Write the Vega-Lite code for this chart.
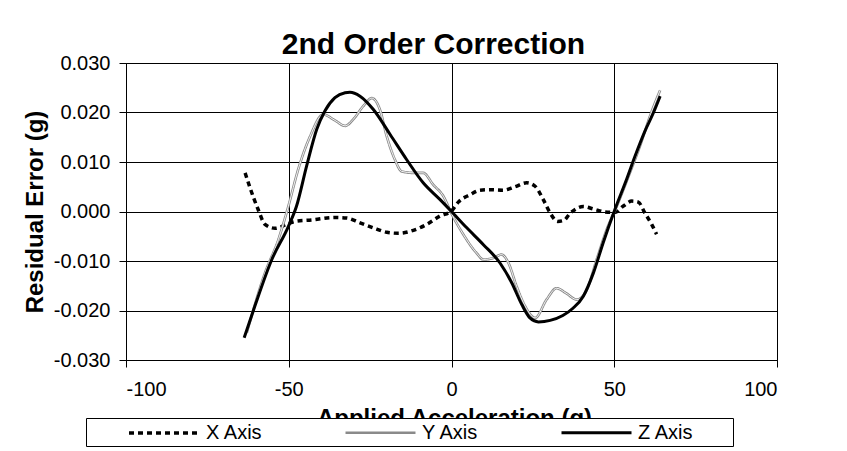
{
  "$schema": "https://vega.github.io/schema/vega-lite/v6.json",
  "width": 651,
  "height": 297,
  "autosize": {"type": "none"},
  "padding": {"left": 126, "top": 63, "right": 70, "bottom": 91},
  "background": "white",
  "title": {"text": "2nd Order Correction", "fontSize": 30, "font": "Liberation Sans", "fontWeight": "bold", "color": "black", "anchor": "middle", "frame": "group", "baseline": "alphabetic", "offset": 10, "dx": -18, "dy": 41},
  "config": {"view": {"stroke": "black", "strokeWidth": 1}, "font": "Liberation Sans"},
  "data": {"values": [
    {"series": "X Axis", "accel": -63.4, "err": 0.0078},
    {"series": "X Axis", "accel": -61.9, "err": 0.0048},
    {"series": "X Axis", "accel": -59.4, "err": 0.0004},
    {"series": "X Axis", "accel": -57.3, "err": -0.0026},
    {"series": "X Axis", "accel": -54.2, "err": -0.0034},
    {"series": "X Axis", "accel": -50.6, "err": -0.0026},
    {"series": "X Axis", "accel": -48.1, "err": -0.0020},
    {"series": "X Axis", "accel": -42.9, "err": -0.0017},
    {"series": "X Axis", "accel": -35.8, "err": -0.0012},
    {"series": "X Axis", "accel": -32.2, "err": -0.0013},
    {"series": "X Axis", "accel": -28.1, "err": -0.0023},
    {"series": "X Axis", "accel": -24.0, "err": -0.0033},
    {"series": "X Axis", "accel": -19.9, "err": -0.0042},
    {"series": "X Axis", "accel": -16.3, "err": -0.0044},
    {"series": "X Axis", "accel": -11.7, "err": -0.0038},
    {"series": "X Axis", "accel": -7.6, "err": -0.0026},
    {"series": "X Axis", "accel": -3.5, "err": -0.0009},
    {"series": "X Axis", "accel": 0.0, "err": 0.0001},
    {"series": "X Axis", "accel": 2.1, "err": 0.0019},
    {"series": "X Axis", "accel": 5.7, "err": 0.0034},
    {"series": "X Axis", "accel": 8.8, "err": 0.0043},
    {"series": "X Axis", "accel": 11.8, "err": 0.0044},
    {"series": "X Axis", "accel": 15.9, "err": 0.0043},
    {"series": "X Axis", "accel": 19.5, "err": 0.0050},
    {"series": "X Axis", "accel": 23.1, "err": 0.0058},
    {"series": "X Axis", "accel": 25.7, "err": 0.0051},
    {"series": "X Axis", "accel": 28.2, "err": 0.0024},
    {"series": "X Axis", "accel": 30.3, "err": -0.0003},
    {"series": "X Axis", "accel": 32.6, "err": -0.0020},
    {"series": "X Axis", "accel": 34.5, "err": -0.0018},
    {"series": "X Axis", "accel": 36.4, "err": -0.0004},
    {"series": "X Axis", "accel": 40.5, "err": 0.0010},
    {"series": "X Axis", "accel": 43.6, "err": 0.0005},
    {"series": "X Axis", "accel": 47.2, "err": -0.0001},
    {"series": "X Axis", "accel": 50.2, "err": -0.0002},
    {"series": "X Axis", "accel": 52.8, "err": 0.0011},
    {"series": "X Axis", "accel": 55.4, "err": 0.0021},
    {"series": "X Axis", "accel": 57.4, "err": 0.0019},
    {"series": "X Axis", "accel": 59.4, "err": -0.0003},
    {"series": "X Axis", "accel": 61.5, "err": -0.0026},
    {"series": "X Axis", "accel": 63.0, "err": -0.0046},
    {"series": "Y Axis", "accel": -62.9, "err": -0.0245},
    {"series": "Y Axis", "accel": -57.3, "err": -0.0124},
    {"series": "Y Axis", "accel": -53.2, "err": -0.0057},
    {"series": "Y Axis", "accel": -50.1, "err": 0.0011},
    {"series": "Y Axis", "accel": -47.1, "err": 0.0085},
    {"series": "Y Axis", "accel": -43.5, "err": 0.0151},
    {"series": "Y Axis", "accel": -39.4, "err": 0.0196},
    {"series": "Y Axis", "accel": -35.8, "err": 0.0184},
    {"series": "Y Axis", "accel": -32.7, "err": 0.0173},
    {"series": "Y Axis", "accel": -30.2, "err": 0.0186},
    {"series": "Y Axis", "accel": -27.1, "err": 0.0213},
    {"series": "Y Axis", "accel": -24.5, "err": 0.0229},
    {"series": "Y Axis", "accel": -22.0, "err": 0.0206},
    {"series": "Y Axis", "accel": -19.9, "err": 0.0152},
    {"series": "Y Axis", "accel": -17.4, "err": 0.0105},
    {"series": "Y Axis", "accel": -15.3, "err": 0.0081},
    {"series": "Y Axis", "accel": -11.7, "err": 0.0078},
    {"series": "Y Axis", "accel": -8.7, "err": 0.0078},
    {"series": "Y Axis", "accel": -5.6, "err": 0.0054},
    {"series": "Y Axis", "accel": -2.5, "err": 0.0031},
    {"series": "Y Axis", "accel": 0.0, "err": -0.0004},
    {"series": "Y Axis", "accel": 3.6, "err": -0.0046},
    {"series": "Y Axis", "accel": 7.7, "err": -0.0084},
    {"series": "Y Axis", "accel": 9.8, "err": -0.0097},
    {"series": "Y Axis", "accel": 12.8, "err": -0.0094},
    {"series": "Y Axis", "accel": 15.4, "err": -0.0087},
    {"series": "Y Axis", "accel": 17.5, "err": -0.0104},
    {"series": "Y Axis", "accel": 20.0, "err": -0.0151},
    {"series": "Y Axis", "accel": 22.6, "err": -0.0191},
    {"series": "Y Axis", "accel": 25.7, "err": -0.0215},
    {"series": "Y Axis", "accel": 29.2, "err": -0.0178},
    {"series": "Y Axis", "accel": 32.3, "err": -0.0155},
    {"series": "Y Axis", "accel": 35.2, "err": -0.0165},
    {"series": "Y Axis", "accel": 38.5, "err": -0.0178},
    {"series": "Y Axis", "accel": 41.5, "err": -0.0159},
    {"series": "Y Axis", "accel": 44.6, "err": -0.0097},
    {"series": "Y Axis", "accel": 47.7, "err": -0.0036},
    {"series": "Y Axis", "accel": 50.8, "err": 0.0011},
    {"series": "Y Axis", "accel": 54.8, "err": 0.0078},
    {"series": "Y Axis", "accel": 57.9, "err": 0.0132},
    {"series": "Y Axis", "accel": 61.0, "err": 0.0193},
    {"series": "Y Axis", "accel": 64.1, "err": 0.0245},
    {"series": "Z Axis", "accel": -63.7, "err": -0.0255},
    {"series": "Z Axis", "accel": -60.4, "err": -0.0191},
    {"series": "Z Axis", "accel": -55.2, "err": -0.0097},
    {"series": "Z Axis", "accel": -50.1, "err": -0.0030},
    {"series": "Z Axis", "accel": -47.6, "err": 0.0011},
    {"series": "Z Axis", "accel": -44.5, "err": 0.0092},
    {"series": "Z Axis", "accel": -41.4, "err": 0.0166},
    {"series": "Z Axis", "accel": -38.9, "err": 0.0203},
    {"series": "Z Axis", "accel": -35.8, "err": 0.0230},
    {"series": "Z Axis", "accel": -32.7, "err": 0.0240},
    {"series": "Z Axis", "accel": -31.2, "err": 0.0241},
    {"series": "Z Axis", "accel": -28.1, "err": 0.0233},
    {"series": "Z Axis", "accel": -24.0, "err": 0.0206},
    {"series": "Z Axis", "accel": -18.9, "err": 0.0156},
    {"series": "Z Axis", "accel": -13.8, "err": 0.0105},
    {"series": "Z Axis", "accel": -8.7, "err": 0.0058},
    {"series": "Z Axis", "accel": -3.5, "err": 0.0024},
    {"series": "Z Axis", "accel": 0.0, "err": 0.0000},
    {"series": "Z Axis", "accel": 4.7, "err": -0.0033},
    {"series": "Z Axis", "accel": 9.8, "err": -0.0067},
    {"series": "Z Axis", "accel": 14.9, "err": -0.0104},
    {"series": "Z Axis", "accel": 18.5, "err": -0.0144},
    {"series": "Z Axis", "accel": 21.6, "err": -0.0188},
    {"series": "Z Axis", "accel": 24.1, "err": -0.0215},
    {"series": "Z Axis", "accel": 26.7, "err": -0.0223},
    {"series": "Z Axis", "accel": 30.3, "err": -0.0220},
    {"series": "Z Axis", "accel": 34.2, "err": -0.0210},
    {"series": "Z Axis", "accel": 37.4, "err": -0.0195},
    {"series": "Z Axis", "accel": 40.5, "err": -0.0171},
    {"series": "Z Axis", "accel": 43.6, "err": -0.0124},
    {"series": "Z Axis", "accel": 46.6, "err": -0.0063},
    {"series": "Z Axis", "accel": 50.2, "err": 0.0004},
    {"series": "Z Axis", "accel": 53.8, "err": 0.0065},
    {"series": "Z Axis", "accel": 56.4, "err": 0.0112},
    {"series": "Z Axis", "accel": 59.4, "err": 0.0162},
    {"series": "Z Axis", "accel": 62.0, "err": 0.0199},
    {"series": "Z Axis", "accel": 64.1, "err": 0.0233}
  ]},
  "encoding": {
    "x": {"field": "accel", "type": "quantitative",
      "scale": {"domain": [-100, 100], "nice": false, "zero": false},
      "axis": {"title": "Applied Acceleration (g)", "values": [-100, -50, 0, 50, 100],
        "labelExpr": "replace(datum.label, '\u2212', '-')",
        "grid": true, "gridColor": "black", "gridOpacity": 1, "gridWidth": 1,
        "domain": false, "tickColor": "black", "tickSize": 7, "tickWidth": 1,
        "labelFont": "Liberation Sans", "labelFontSize": 20, "labelColor": "black", "labelPadding": 12,
        "titleFont": "Liberation Sans", "titleFontSize": 24, "titleFontWeight": "bold", "titleColor": "black",
        "titleX": 328, "titleY": 65, "titleBaseline": "alphabetic", "titleAlign": "center"}},
    "y": {"field": "err", "type": "quantitative",
      "scale": {"domain": [-0.03, 0.03], "nice": false, "zero": false},
      "axis": {"title": "Residual Error (g)", "values": [-0.03, -0.02, -0.01, 0, 0.01, 0.02, 0.03],
        "format": ".3f", "labelExpr": "replace(datum.label, '\u2212', '-')",
        "grid": true, "gridColor": "black", "gridOpacity": 1, "gridWidth": 1,
        "domain": false, "tickColor": "black", "tickSize": 7, "tickWidth": 1,
        "labelFont": "Liberation Sans", "labelFontSize": 20, "labelColor": "black", "labelPadding": 9,
        "titleFont": "Liberation Sans", "titleFontSize": 24, "titleFontWeight": "bold", "titleColor": "black",
        "titleX": -84, "titleY": 148.5, "titleAngle": -90, "titleBaseline": "alphabetic", "titleAlign": "center"}}
  },
  "layer": [
    {
      "transform": [{"filter": "datum.series !== 'Z Axis'"}],
      "mark": {"type": "line", "interpolate": "monotone", "strokeCap": "butt"},
      "encoding": {
        "color": {"field": "series", "type": "nominal",
          "scale": {"domain": ["X Axis", "Y Axis", "Z Axis"], "range": ["black", "#8a8a8a", "black"]},
          "legend": {"orient": "none", "legendX": -40, "legendY": 355, "direction": "horizontal", "title": "\u00a0", "titleOrient": "right", "titlePadding": 36, "titleFontSize": 20,
            "symbolType": "M-3.5,0H3.5", "symbolSize": 400, "labelFont": "Liberation Sans", "labelFontSize": 20, "labelColor": "black",
            "strokeColor": "black", "fillColor": "white", "padding": 3, "columnPadding": 43, "labelOffset": 30, "symbolOffset": 63}},
        "strokeDash": {"field": "series", "type": "nominal",
          "scale": {"domain": ["X Axis", "Y Axis", "Z Axis"], "range": [[5, 4], [1, 0], [1, 0]]},
          "legend": {"orient": "none", "legendX": -40, "legendY": 355, "direction": "horizontal", "title": "\u00a0", "titleOrient": "right", "titlePadding": 36, "titleFontSize": 20,
            "symbolType": "M-3.5,0H3.5", "symbolSize": 400, "labelFont": "Liberation Sans", "labelFontSize": 20, "labelColor": "black",
            "strokeColor": "black", "fillColor": "white", "padding": 3, "columnPadding": 43, "labelOffset": 30, "symbolOffset": 63}},
        "strokeWidth": {"field": "series", "type": "nominal",
          "scale": {"type": "ordinal", "domain": ["X Axis", "Y Axis", "Z Axis"], "range": [3.5, 2.6, 3]},
          "legend": {"orient": "none", "legendX": -40, "legendY": 355, "direction": "horizontal", "title": "\u00a0", "titleOrient": "right", "titlePadding": 36, "titleFontSize": 20,
            "symbolType": "M-3.5,0H3.5", "symbolSize": 400, "labelFont": "Liberation Sans", "labelFontSize": 20, "labelColor": "black",
            "strokeColor": "black", "fillColor": "white", "padding": 3, "columnPadding": 43, "labelOffset": 30, "symbolOffset": 63}}
      }
    },
    {
      "transform": [{"filter": "datum.series === 'Y Axis'"}],
      "mark": {"type": "line", "interpolate": "monotone", "color": "white", "strokeWidth": 0.9},
      "encoding": {}
    },
    {
      "transform": [{"filter": "datum.series === 'Z Axis'"}],
      "mark": {"type": "line", "interpolate": "monotone", "color": "black", "strokeWidth": 3},
      "encoding": {}
    }
  ]
}
